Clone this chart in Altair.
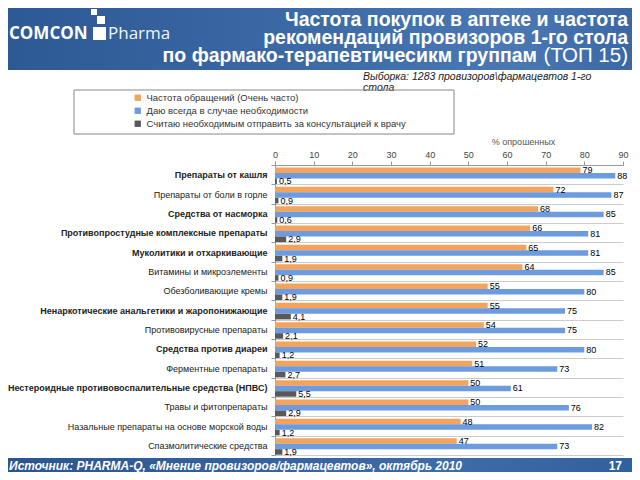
import json
import altair as alt
import pandas as pd

categories = [
    "Препараты от кашля",
    "Препараты от боли в горле",
    "Средства от насморка",
    "Противопростудные комплексные препараты",
    "Муколитики и отхаркивающие",
    "Витамины и микроэлементы",
    "Обезболивающие кремы",
    "Ненаркотические анальгетики и жаропонижающие",
    "Противовирусные препараты",
    "Средства против диареи",
    "Ферментные препараты",
    "Нестероидные противовоспалительные средства (НПВС)",
    "Травы и фитопрепараты",
    "Назальные препараты на основе морской воды",
    "Спазмолитические средства",
]
freq = [79, 72, 68, 66, 65, 64, 55, 55, 54, 52, 51, 50, 50, 48, 47]
advise = [88, 87, 85, 81, 81, 85, 80, 75, 75, 80, 73, 61, 76, 82, 73]
doctor = [0.5, 0.9, 0.6, 2.9, 1.9, 0.9, 1.9, 4.1, 2.1, 1.2, 2.7, 5.5, 2.9, 1.2, 1.9]
series = [
    "Частота обращений (Очень часто)",
    "Даю всегда в случае необходимости",
    "Считаю необходимым отправить за консультацией к врачу",
]
colors = ["#F3A35B", "#6C9BDF", "#595959"]
bold_cats = [
    "Препараты от кашля",
    "Средства от насморка",
    "Противопростудные комплексные препараты",
    "Муколитики и отхаркивающие",
    "Ненаркотические анальгетики и жаропонижающие",
    "Средства против диареи",
    "Нестероидные противовоспалительные средства (НПВС)",
]
x_ticks = [0, 10, 20, 30, 40, 50, 60, 70, 80, 90]

title_lines = [
    "Частота покупок в аптеке и частота",
    "рекомендаций провизоров 1-го стола",
    "по фармако-терапевтичесикм группам",
]
title_tail = "(ТОП 15)"
sample_lines = ["Выборка: 1283 провизоров\\фармацевтов 1-го", "стола"]
source_text = "Источник: PHARMA-Q, «Мнение провизоров/фармацевтов», октябрь 2010"
page_no = "17"

rows = []
for i, c in enumerate(categories):
    for s, vals in zip(series, [freq, advise, doctor]):
        rows.append({"category": c, "series": s, "value": vals[i]})
df = pd.DataFrame(rows)

# plot origin in page coordinates
OX, OY = 275, 165
W, H = 348, 290
FONT = "Liberation Sans"

y_axis = alt.Axis(
    title=None,
    labelFontSize=9,
    labelColor="#222222",
    labelPadding=4,
    labelLimit=400,
    labelFont=FONT,
    labelFontWeight={
        "condition": {
            "test": "indexof(%s, datum.value) >= 0" % json.dumps(bold_cats, ensure_ascii=False),
            "value": "bold",
        },
        "value": "normal",
    },
    tickBand="extent",
    ticks=True,
    tickSize=4,
    tickColor="#999999",
    domainColor="#999999",
    grid=True,
    gridColor="#cccccc",
)
x_axis = alt.Axis(
    orient="top",
    values=x_ticks,
    title="% опрошенных",
    titleFontSize=9,
    titleFontWeight="normal",
    titleColor="#555555",
    titleFont=FONT,
    titleX=248,
    titleY=-24,
    titleAlign="center",
    titleBaseline="middle",
    labelFontSize=9,
    labelColor="#444444",
    labelFont=FONT,
    labelPadding=2,
    labelOverlap=False,
    labelFlush=False,
    tickSize=4,
    tickColor="#999999",
    domainColor="#999999",
    grid=False,
)


def y_enc():
    return alt.Y("category:N", sort=categories,
                 scale=alt.Scale(paddingInner=0, paddingOuter=0), axis=y_axis)


def yoff_enc():
    return alt.YOffset("series:N", sort=series,
                       scale=alt.Scale(paddingInner=0, paddingOuter=0.25, align=0.9))


def x_enc():
    return alt.X("value:Q", scale=alt.Scale(domain=[0, 90], nice=False), axis=x_axis)


bars = alt.Chart(df).mark_bar().encode(
    x=x_enc(),
    y=y_enc(),
    yOffset=yoff_enc(),
    color=alt.Color(
        "series:N",
        sort=series,
        scale=alt.Scale(domain=series, range=colors),
        legend=alt.Legend(
            orient="none",
            direction="vertical",
            legendX=137 - OX - 4,
            legendY=93 - OY,
            title=None,
            symbolType="square",
            symbolSize=40,
            symbolStrokeWidth=0,
            labelFontSize=9.5,
            labelColor="#333333",
            labelFont=FONT,
            rowPadding=2,
            labelLimit=400,
        ),
    ),
)

labels = (
    alt.Chart(df)
    .transform_calculate(label="replace(toString(datum.value), '.', ',')")
    .mark_text(align="left", baseline="middle", dx=2, fontSize=9, color="black", font=FONT)
    .encode(x=x_enc(), y=y_enc(), yOffset=yoff_enc(), text="label:N")
)


def deco_rect(x1, y1, x2, y2, fill, stroke=None):
    kw = {"fill": fill}
    if stroke:
        kw["stroke"] = stroke
        kw["strokeWidth"] = 1
    return alt.Chart(alt.Data(values=[{"a": 1}])).mark_rect(**kw).encode(
        x=alt.value(x1 - OX), x2=alt.value(x2 - OX), y=alt.value(y1 - OY), y2=alt.value(y2 - OY)
    )


def deco_text(text, x, y, size, color, weight="normal", style="normal", align="left", font=FONT):
    return alt.Chart(alt.Data(values=[{"t": text}])).mark_text(
        align=align, baseline="middle", fontSize=size, color=color,
        fontWeight=weight, fontStyle=style, font=font,
    ).encode(x=alt.value(x - OX), y=alt.value(y - OY), text="t:N")


header_grad = alt.LinearGradient(
    gradient="linear",
    stops=[
        alt.GradientStop(color="#2C5893", offset=0),
        alt.GradientStop(color="#3F6DAA", offset=0.55),
        alt.GradientStop(color="#4A78B4", offset=0.8),
        alt.GradientStop(color="#3A67A4", offset=1),
    ],
    x1=0, x2=1, y1=0, y2=0,
)
footer_grad = alt.LinearGradient(
    gradient="linear",
    stops=[
        alt.GradientStop(color="#2A5590", offset=0),
        alt.GradientStop(color="#3E6CA9", offset=0.7),
        alt.GradientStop(color="#30609C", offset=1),
    ],
    x1=0, x2=1, y1=0, y2=0,
)

layers = [
    deco_rect(0, 0, 640, 70, header_grad),
    deco_rect(91, 9, 97, 15, "white"),
    deco_rect(97, 16, 105, 24, "white"),
    deco_rect(93, 27, 106, 40, "white"),
    deco_text("COMCON", 9, 34, 17, "white", weight="bold", font="Open Sans"),
    deco_text("Pharma", 108, 34, 17, "#f0f4fa", font="Open Sans"),
    deco_text(title_lines[0], 628, 19.5, 19.5, "white", weight="bold", align="right"),
    deco_text(title_lines[1], 628, 37.5, 19.5, "white", weight="bold", align="right"),
    deco_text(title_lines[2], 537, 55.5, 19.5, "white", weight="bold", align="right"),
    deco_text(title_tail, 628, 55.5, 20.5, "white", align="right"),
    deco_text(sample_lines[0], 363, 77, 10.5, "#222222", style="italic"),
    deco_text(sample_lines[1], 363, 88, 10.5, "#222222", style="italic"),
    deco_rect(74, 90, 454, 134, "transparent", stroke="#888888"),
    bars,
    labels,
    deco_rect(0, 458, 640, 480, footer_grad),
    deco_text(source_text, 9, 466, 12, "white", weight="bold", style="italic"),
    deco_text(page_no, 622, 466, 12, "white", weight="bold", align="right"),
]

chart = (
    alt.layer(*layers)
    .properties(
        width=W,
        height=H,
        autosize=alt.AutoSizeParams(type="none"),
        padding={"left": OX - 8, "top": OY - 8, "right": 632 - OX - W, "bottom": 472 - OY - H},
    )
    .configure_view(stroke=None)
)

chart.save("out.html", embed_options={"renderer": "svg", "actions": False})
